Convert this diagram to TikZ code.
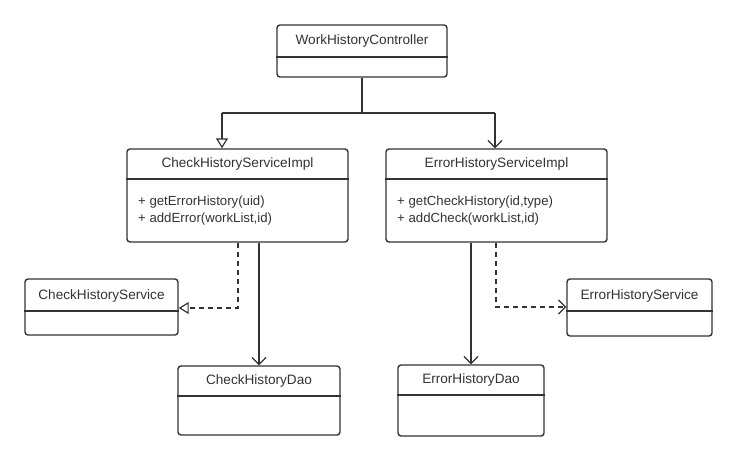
\documentclass[tikz,border=0pt]{standalone}
\usepackage{fontspec}
\setmainfont{Liberation Sans}
\usepackage{xcolor}
\usepackage{tikz}
\usetikzlibrary{arrows.meta,positioning}

\definecolor{umlink}{HTML}{333333}

\begin{document}
\begin{tikzpicture}[
  x=1pt, y=-1pt,
  cls/.style   = {draw=umlink, line width=1.4pt, rounded corners=3pt,
                  fill=white, inner sep=0pt},
  ttl/.style   = {font=\fontsize{13.6}{15}\selectfont, text=umlink, inner sep=0pt},
  ops/.style   = {font=\fontsize{13.2}{17}\selectfont, text=umlink, align=left,
                  inner sep=0pt, anchor=west},
  sep/.style   = {draw=umlink, line width=1.4pt},
  lnk/.style   = {draw=umlink, line width=1.4pt},
  gen/.style   = {lnk, -{Triangle[open, length=10pt, width=12pt, line width=1.2pt]}},
  use/.style   = {lnk, -{Straight Barb[length=7pt, width=14pt, line width=1.2pt]}},
  dep/.style   = {use, dash pattern=on 5pt off 4pt},
  real/.style  = {gen, dash pattern=on 5pt off 4pt},
]
\useasboundingbox (0,0) rectangle (738,461);

%% ── Class boxes ─────────────────────────────────────────────────────────────
\node[cls, minimum width=170pt, minimum height=52pt] (WHC)  at (362,51) {};
\node[cls, minimum width=221pt, minimum height=93pt] (CHSI) at (237.5,195.5) {};
\node[cls, minimum width=221pt, minimum height=93pt] (EHSI) at (496.5,195.5) {};
\node[cls, minimum width=153pt, minimum height=56pt] (CHS)  at (101.5,307) {};
\node[cls, minimum width=145pt, minimum height=57pt] (EHS)  at (639.5,307.5) {};
\node[cls, minimum width=162pt, minimum height=69pt] (CHD)  at (259,400.5) {};
\node[cls, minimum width=146pt, minimum height=71pt] (EHD)  at (471,400.5) {};

%% ── Compartment lines ───────────────────────────────────────────────────────
\draw[sep] (WHC.west  |- 0,57)  -- (WHC.east  |- 0,57);
\draw[sep] (CHSI.west |- 0,179) -- (CHSI.east |- 0,179);
\draw[sep] (EHSI.west |- 0,179) -- (EHSI.east |- 0,179);
\draw[sep] (CHS.west  |- 0,311) -- (CHS.east  |- 0,311);
\draw[sep] (EHS.west  |- 0,311) -- (EHS.east  |- 0,311);
\draw[sep] (CHD.west  |- 0,396) -- (CHD.east  |- 0,396);
\draw[sep] (EHD.west  |- 0,395) -- (EHD.east  |- 0,395);

%% ── Class names and operations ──────────────────────────────────────────────
\node[ttl] (tWHC)  at (362,41)   {WorkHistoryController};
\node[ttl] (tCHSI) at (237.5,164) {CheckHistoryServiceImpl};
\node[ttl] (tEHSI) at (496.5,164) {ErrorHistoryServiceImpl};
\node[ttl] (tCHS)  at (101.5,296) {CheckHistoryService};
\node[ttl] (tEHS)  at (639.5,296) {ErrorHistoryService};
\node[ttl] (tCHD)  at (259,381)   {CheckHistoryDao};
\node[ttl] (tEHD)  at (471,380)   {ErrorHistoryDao};
\node[ops] (oCHSI) at (138,211) {+ getErrorHistory(uid)\\+ addError(workList,id)};
\node[ops] (oEHSI) at (397,211) {+ getCheckHistory(id,type)\\+ addCheck(workList,id)};

%% ── Connectors ──────────────────────────────────────────────────────────────
\coordinate (split) at (362,113);
\coordinate (brL)   at (222,113);
\coordinate (brR)   at (495,113);
\draw[lnk] (WHC.south) -- (split);
\draw[lnk] (brL) -- (brR);
\draw[gen] (brL) -- (brL |- CHSI.north);
\draw[use] (brR) -- (brR |- EHSI.north);

\coordinate (dL) at (238,308);
\coordinate (dR) at (496,307);
\draw[real] (CHSI.south -| dL) -- (dL) -- (dL -| CHS.east);
\draw[dep]  (EHSI.south -| dR) -- (dR) -- (dR -| EHS.west);

\draw[use] (CHSI.south -| CHD.north) -- (CHD.north);
\draw[use] (EHSI.south -| EHD.north) -- (EHD.north);

\end{tikzpicture}
\end{document}
